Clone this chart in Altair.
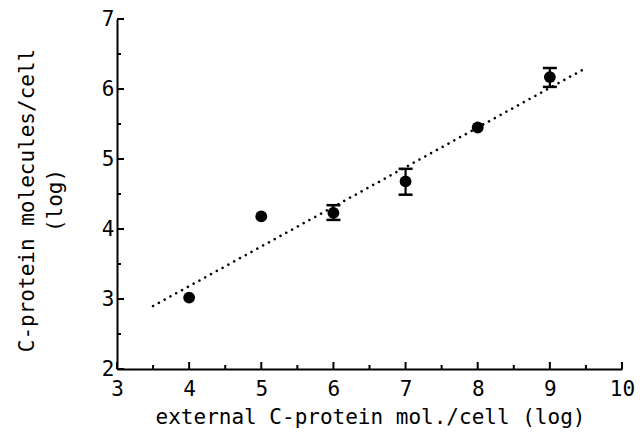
import altair as alt
import pandas as pd

# data values
x_vals = [4, 5, 6, 7, 8, 9]
y_vals = [3.02, 4.18, 4.23, 4.68, 5.45, 6.17]
err_x = [6, 7, 9]
err_lo = [4.13, 4.49, 6.03]
err_hi = [4.34, 4.86, 6.30]
fit_x = [3.5, 9.5]
fit_y = [2.9, 6.3]
x_major = [3, 4, 5, 6, 7, 8, 9, 10]
x_minor = [3.5, 4.5, 5.5, 6.5, 7.5, 8.5, 9.5]
y_major = [2, 3, 4, 5, 6, 7]
y_minor = [2.5, 3.5, 4.5, 5.5, 6.5]

pts = pd.DataFrame({"x": x_vals, "y": y_vals})
errs = pd.DataFrame({"x": err_x, "lo": err_lo, "hi": err_hi})
fit = pd.DataFrame({"x": fit_x, "y": fit_y})
xmaj = pd.DataFrame({"x": x_major})
xmin = pd.DataFrame({"x": x_minor})
ymaj = pd.DataFrame({"y": y_major})
ymin = pd.DataFrame({"y": y_minor})

FONT = "DejaVu Sans Mono"
W, H = 505, 350
xs = alt.Scale(domain=[3, 10], nice=False, zero=False)
ys = alt.Scale(domain=[2, 7], nice=False, zero=False)

x_axis = alt.Axis(
    values=x_major, format="d", ticks=False, tickSize=0, grid=False,
    labelPadding=9, labelFlush=False, labelOverlap=False,
    domainColor="black", domainWidth=2,
    title="external C-protein mol./cell (log)",
    titleX=253, titleY=54, titleBaseline="alphabetic", titleAlign="center",
)
y_axis = alt.Axis(
    values=y_major, format="d", ticks=False, tickSize=0, grid=False,
    labelPadding=3, labelFlush=False, labelOverlap=False,
    domainColor="black", domainWidth=2,
    title=["C-protein molecules/cell", "(log)"],
    titleAngle=270, titleX=-84, titleY=181, titleBaseline="alphabetic",
    titleAlign="center", titleLineHeight=28,
)

X = lambda f: alt.X(f, scale=xs, axis=x_axis)
Y = lambda f: alt.Y(f, scale=ys, axis=y_axis)

points = alt.Chart(pts).mark_point(
    filled=True, size=140, color="black", opacity=1
).encode(x=X("x:Q"), y=Y("y:Q"))

fit_line = alt.Chart(fit).mark_line(
    color="black", strokeWidth=2.6, strokeDash=[0.01, 6.6], strokeCap="round"
).encode(x=X("x:Q"), y=Y("y:Q"))

err_rule = alt.Chart(errs).mark_rule(color="black", strokeWidth=2.2).encode(
    x=X("x:Q"), y=Y("lo:Q"), y2="hi:Q",
)
cap_lo = alt.Chart(errs).mark_tick(
    orient="horizontal", size=14, thickness=2.5, color="black", opacity=1
).encode(x=X("x:Q"), y=Y("lo:Q"))
cap_hi = alt.Chart(errs).mark_tick(
    orient="horizontal", size=14, thickness=2.5, color="black", opacity=1
).encode(x=X("x:Q"), y=Y("hi:Q"))

def xticks(df, length):
    return alt.Chart(df).mark_tick(
        orient="vertical", size=length, thickness=2, color="black",
        opacity=1, yOffset=-length / 2
    ).encode(x=X("x:Q"), y=alt.value(H))

def yticks(df, length):
    return alt.Chart(df).mark_tick(
        orient="horizontal", size=length, thickness=2, color="black",
        opacity=1, xOffset=length / 2
    ).encode(y=Y("y:Q"), x=alt.value(0))

chart = alt.layer(
    points, fit_line, err_rule, cap_lo, cap_hi,
    xticks(xmaj, 7), xticks(xmin, 4), yticks(ymaj, 7), yticks(ymin, 4),
).properties(
    width=W, height=H,
    background="white",
    autosize=alt.AutoSizeParams(type="none"),
    padding={"left": 109, "top": 11, "right": 13, "bottom": 59},
).configure_view(
    strokeWidth=0, stroke="transparent"
).configure_axis(
    labelFont=FONT, labelFontSize=21, labelColor="black",
    titleFont=FONT, titleFontSize=21, titleFontWeight="normal", titleColor="black",
)

chart.save("out.html", embed_options={"renderer": "svg", "actions": False})
